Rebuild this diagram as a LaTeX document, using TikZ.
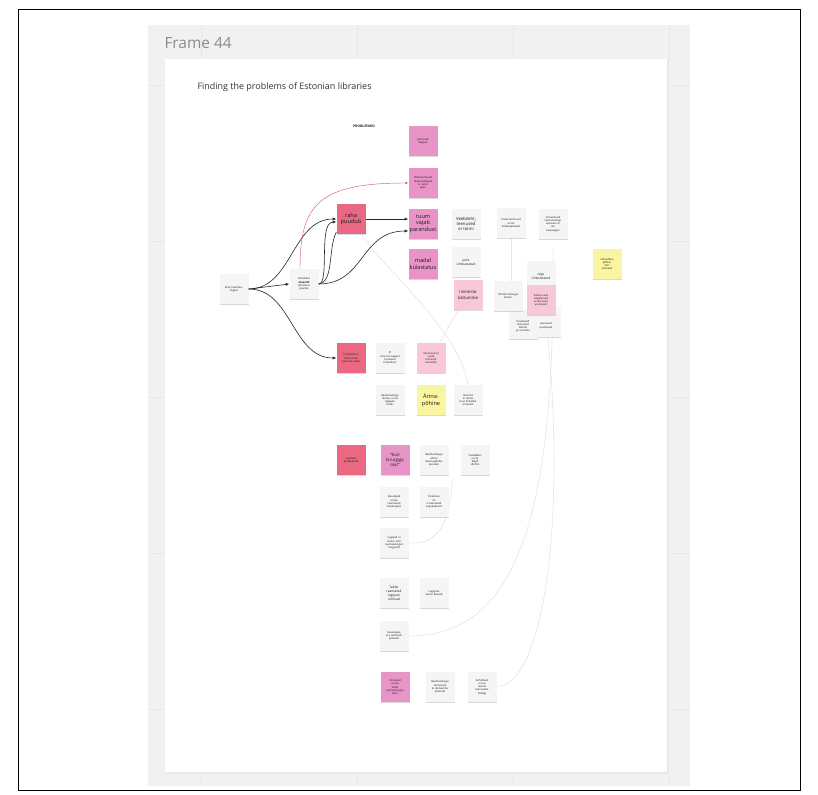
\documentclass[tikz,border=0pt]{standalone}
\usepackage{fontspec}
\setmainfont{Open Sans}
\usetikzlibrary{arrows.meta,shadows}

\definecolor{canvasgray}{RGB}{241,241,241}
\definecolor{gridgray}{RGB}{231,231,231}
\definecolor{notewhite}{RGB}{245,245,245}
\definecolor{notered}{RGB}{234,104,130}
\definecolor{notepink}{RGB}{232,148,198}
\definecolor{notelight}{RGB}{248,200,218}
\definecolor{noteyellow}{RGB}{250,245,160}
\definecolor{faintline}{RGB}{238,226,230}
\definecolor{redline}{RGB}{228,96,96}

\tikzset{
  note/.style={minimum width=29bp, minimum height=30bp, text width=27bp,
    inner sep=0pt, align=center, text=black!90,
    drop shadow={shadow xshift=0bp, shadow yshift=-1.3bp, opacity=0.3}},
  tinytext/.style={font=\fontsize{2.7}{3.2}\selectfont},
  smalltext/.style={font=\fontsize{3.3}{4}\selectfont},
  medtext/.style={font=\fontsize{4.3}{5.3}\selectfont},
  bigtext/.style={font=\fontsize{5.6}{6.8}\selectfont},
  whitenote/.style={note, fill=notewhite},
  rednote/.style={note, fill=notered},
  pinknote/.style={note, fill=notepink},
  lightnote/.style={note, fill=notelight},
  yellownote/.style={note, fill=noteyellow},
  conn/.style={draw=black!85, line width=0.6bp, -{Latex[length=3.6bp,width=3bp]}},
  redconn/.style={draw=redline, line width=0.45bp, -{Latex[length=3bp,width=2.6bp]}},
  faint/.style={draw=faintline, line width=0.6bp},
  gridline/.style={draw=gridgray, line width=0.6bp}
}

\begin{document}
\begin{tikzpicture}[x=1bp, y=-1bp]
\useasboundingbox (0,0) rectangle (818,795);
\fill[white] (0,0) rectangle (818,795);
\draw[black, line width=0.8bp] (18,9) rectangle (800,790);

% board canvas with grid
\fill[canvasgray] (148,25) rectangle (690,786);
\foreach \gx in {201,357,513,669} \draw[gridline] (\gx,25) -- (\gx,786);
\foreach \gy in {85,241,397,553,709} \draw[gridline] (148,\gy) -- (690,\gy);
\node[anchor=west, text=black!45, font=\fontsize{15.5}{18}\selectfont] (frametitle) at (161,43) {Frame 44};

% white frame with soft shadow
\fill[black!5] (166,61) rectangle (670,776);
\fill[black!9] (166,60) rectangle (668.5,774);
\fill[white] (165,59) rectangle (667,772);

\node[anchor=west, text=black!80, font=\fontsize{9}{10.5}\selectfont] (title) at (194,87) {Finding the problems of Estonian libraries};
\node[text=black!85, font=\bfseries\fontsize{3.4}{4}\selectfont] (header) at (364,126) {PROBLEEMID};

% ---- faint links (drawn under the notes) ----
\coordinate (fa1) at (362,235);
\coordinate (fa2) at (468,385);
\draw[faint] (fa1) .. controls (380,265) and (460,330) .. (fa2);
\draw[faint] (458,310) .. controls (450,325) and (440,340) .. (436,352);
\draw[faint] (410,543) .. controls (440,545) and (450,520) .. (452,480);
\draw[faint] (410,636) .. controls (530,636) and (555,480) .. (553,248);
\draw[faint] (498,687) .. controls (545,680) and (565,520) .. (548,338);
\draw[faint] (511,238) -- (511,282);

% ---- problem tree ----
\node[pinknote, tinytext] (n1) at (423,141) {personali\\nappus};
\node[pinknote, tinytext] (n2) at (423,183) {Olemasolevad\\raamatukogud\\ei vasta\\ajale};
\node[rednote, bigtext] (raha) at (351,219) {raha\\puudub};
\node[pinknote, bigtext] (ruum) at (423,224) {ruum\\vajab\\parandust};
\node[pinknote, bigtext] (madal) at (423,264) {madal\\külastatus};
\node[whitenote, medtext] (n6) at (466,224) {Veebileht,\\teenused\\ei toimi};
\node[whitenote, tinytext] (n7) at (511,223) {Uued teenused\\ei ole\\kättesaadavad};
\node[whitenote, tinytext] (n8) at (553,224) {Vananenud\\raamatukogu\\süsteem ei\\ole\\kaasaegne};
\node[whitenote, smalltext] (n9) at (466,262) {pole\\ühtsustatud};
\node[whitenote, smalltext] (n12) at (541,276) {olgu\\ühtsustatud};
\node[whitenote, tinytext] (n14b) at (546,322) {\mbox{}\\\mbox{}\\\mbox{}\\teenused\\puuduvad};
\node[whitenote, tinytext] (n14a) at (523,324) {\mbox{}\\\mbox{}\\Puuduvad\\teenused\\lastele\\ja noortele};
\node[lightnote, medtext] (n10) at (468,295) {inimeste\\käitumine};
\node[whitenote, tinytext] (n11) at (508,296) {Infotehnoloogia\\ehitus};
\node[lightnote, tinytext] (n13) at (541,300) {Rahva seas\\negatiivsed\\arvamused\\asutusest};
\node[yellownote, tinytext] (n15) at (607,264) {rahvusliku\\põhise\\‘fun’\\üritused};

\node[whitenote, tinytext] (n16) at (234,289) {Eesti raamatu-\\kogud};
\node[whitenote, tinytext] (n17) at (304,284) {Kohalikul\\\textbf{tasandil}\\rahastuse\\puudus};

\node[rednote, tinytext] (red18) at (351,358) {Inimesed ei\\tunne huvi\\teenuste vastu};
\node[whitenote, tinytext] (n19) at (390,358) {Ei\\tunnuse lugejat\\huvitavat\\kirjandust};
\node[lightnote, tinytext] (n20) at (431,358) {Teenused ei\\vasta\\inimeste\\ootustele};
\node[whitenote, tinytext] (n21) at (390,400) {Raamatukogu\\teenus ei ole\\lugejale\\tuttav};
\node[yellownote, bigtext] (n22) at (431,400) {Ärina-\\põhine};
\node[whitenote, tinytext] (n23) at (468,400) {Noored\\ei tunne\\huvi kohalike\\üritusest};

\node[rednote, tinytext] (red24) at (351,460) {sisulised\\probleemid};
\node[pinknote, medtext] (n25) at (395,460) {“Kuri\\kirurgiga\\olut”};
\node[whitenote, tinytext] (n26) at (434,460) {Raamatukogu\\ühtne\\kasutajaliides\\puudub};
\node[whitenote, tinytext] (n27) at (475,460) {Teadlikkus\\ei ole\\kõigil\\võrdne};
\node[whitenote, tinytext] (n28) at (394,502) {Kasutajad\\ei leia\\raamatuid\\kataloogist};
\node[whitenote, tinytext] (n29) at (434,502) {Tulevikus\\on\\e-raamatud\\populaarsed};
\node[whitenote, tinytext] (n30) at (394,543) {Lugejad ei\\tunne end\\raamatukogus\\mugavalt};
\node[whitenote, smalltext] (n31) at (394,593) {Tablet\\raamatud\\lugejale\\sobivad};
\node[whitenote, tinytext] (n32) at (434,593) {Lugejate\\vanus kasvab};
\node[whitenote, tinytext] (n33) at (394,636) {Kasutajate\\arv väheneb\\pidevalt};
\node[pinknote, tinytext] (n34) at (395,687) {Inimesed\\ei tea\\mida\\raamatukogus\\teha};
\node[whitenote, tinytext] (n35) at (440,687) {Raamatukogu\\teenuseid\\ei reklaamita\\piisavalt};
\node[whitenote, tinytext] (n36) at (482,687) {Kohalikud\\ei tea\\uutest\\teenustest\\midagi};

% ---- connectors ----
\draw[conn] (n16.east) -- (n17.west);
\draw[conn] (n16.east) .. controls (292,289) and (292,219) .. (raha.west);
\draw[conn] (n16.east) .. controls (292,289) and (292,358) .. (red18.west);
\draw[conn] (n17.east) .. controls (330,284) and (318,222) .. ([yshift=-3bp]raha.west);
\draw[draw=black!85, line width=0.6bp] (n17.east) .. controls (334,282) and (328,248) .. ([yshift=2bp]raha.south west);
\draw[conn] (n17.east) .. controls (365,284) and (360,231) .. ([yshift=-7bp]ruum.west);
\draw[conn] (raha.east) -- (raha.east -| ruum.west);
\draw[redconn] ([xshift=-4bp]n17.north) .. controls (300,205) and (318,183) .. (n2.west);
\end{tikzpicture}
\end{document}
